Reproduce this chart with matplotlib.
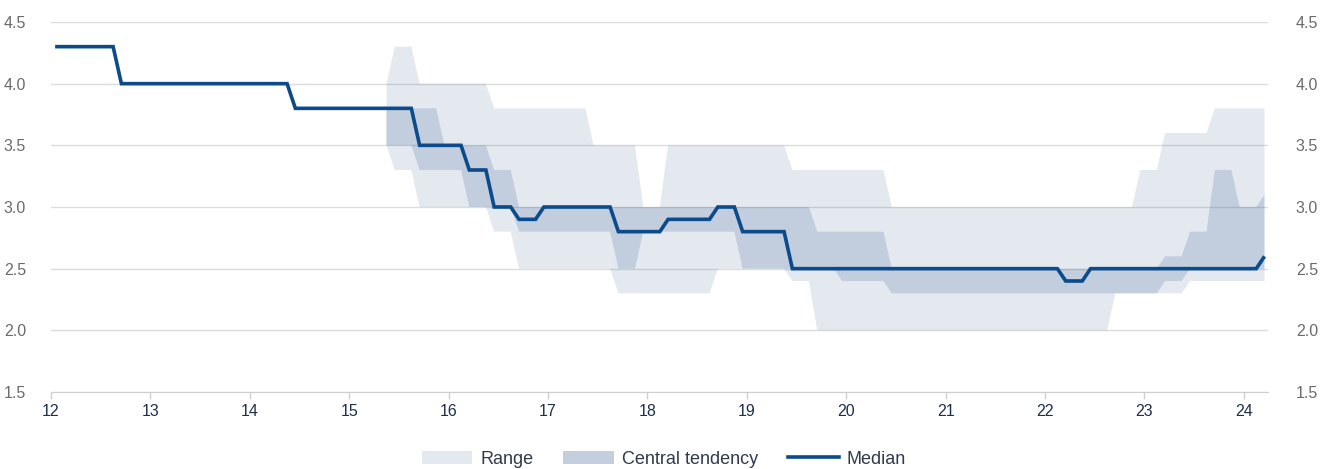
import pandas as pd
import numpy as np
import matplotlib
matplotlib.use('Agg')
import matplotlib.pyplot as plt
from matplotlib.patches import Patch
from matplotlib.lines import Line2D

plt.rcParams['font.family'] = ['Liberation Sans', 'DejaVu Sans']

# Longer-run fed funds projections: each value holds from its start month
# until the month before the next start. Last month shown is Mar 2024.
last_month = '2024-03'

median_start = ['2012-01', '2012-09', '2014-06', '2015-09', '2016-03', '2016-06',
                '2016-09', '2016-12', '2017-09', '2018-03', '2018-09', '2018-12',
                '2019-06', '2022-03', '2022-06', '2024-03']
median_value = [4.3, 4.0, 3.8, 3.5, 3.3, 3.0, 2.9, 3.0, 2.8, 2.9, 3.0, 2.8,
                2.5, 2.4, 2.5, 2.6]

range_hi_start = ['2015-05', '2015-06', '2015-09', '2016-06', '2017-06', '2017-12',
                  '2018-03', '2019-06', '2020-06', '2022-12', '2023-03', '2023-09']
range_hi_value = [4.0, 4.3, 4.0, 3.8, 3.5, 3.0, 3.5, 3.3, 3.0, 3.3, 3.6, 3.8]

range_lo_start = ['2015-05', '2015-06', '2015-09', '2016-06', '2016-09', '2017-09',
                  '2018-09', '2019-06', '2019-09', '2022-09', '2023-06']
range_lo_value = [3.5, 3.3, 3.0, 2.8, 2.5, 2.3, 2.5, 2.4, 2.0, 2.3, 2.4]

ct_hi_start = ['2015-05', '2015-12', '2016-06', '2016-09', '2019-09', '2020-06',
               '2023-03', '2023-06', '2023-09', '2023-12', '2024-03']
ct_hi_value = [3.8, 3.5, 3.3, 3.0, 2.8, 2.5, 2.6, 2.8, 3.3, 3.0, 3.1]

ct_lo_start = ['2015-05', '2015-09', '2016-03', '2016-09', '2017-09', '2017-12',
               '2018-12', '2019-12', '2020-06', '2023-03', '2023-06']
ct_lo_value = [3.5, 3.3, 3.0, 2.8, 2.5, 2.8, 2.5, 2.4, 2.3, 2.4, 2.5]

year_ticks = list(range(12, 25))

RANGE_COLOR = '#4b6c9b'
MEDIAN_COLOR = '#0b4a8b'


def month_pos(month):
    # years since 2000, plotted at mid-month
    p = pd.Period(month, freq='M')
    return p.year - 2000 + (p.month - 1 + 0.5) / 12


def step_vertices(starts, values):
    end = pd.Period(last_month, freq='M')
    periods = [pd.Period(s, freq='M') for s in starts]
    xs, ys = [], []
    for i, (p, v) in enumerate(zip(periods, values)):
        q = periods[i + 1] - 1 if i + 1 < len(periods) else end
        xs += [month_pos(str(p)), month_pos(str(q))]
        ys += [v, v]
    return np.array(xs), np.array(ys)


def band(ax, hi, lo, **kw):
    xh, yh = step_vertices(*hi)
    xl, yl = step_vertices(*lo)
    ax.fill(np.r_[xh, xl[::-1]], np.r_[yh, yl[::-1]], linewidth=0, **kw)


fig = plt.figure(figsize=(13.25, 4.69), dpi=100)
ax = fig.add_axes([51 / 1325, 1 - 392 / 469, (1268 - 51) / 1325, (392 - 22) / 469])

ax.set_xlim(12, 12 + (1268 - 51) / 99.4)
ax.set_ylim(1.5, 4.5)
ax.set_yticks(np.arange(1.5, 4.51, 0.5))
ax.grid(axis='y', color='#dcdcdc', linewidth=1.0, zorder=0)
ax.set_axisbelow(True)

band(ax, (range_hi_start, range_hi_value), (range_lo_start, range_lo_value),
     color=RANGE_COLOR, alpha=0.15, zorder=1)
band(ax, (ct_hi_start, ct_hi_value), (ct_lo_start, ct_lo_value),
     color=RANGE_COLOR, alpha=0.22, zorder=2)

mx, my = step_vertices(median_start, median_value)
ax.plot(mx, my, color=MEDIAN_COLOR, linewidth=2.6, zorder=3,
        solid_joinstyle='miter', solid_capstyle='butt')

for s in ['top', 'left', 'right']:
    ax.spines[s].set_visible(False)
ax.spines['bottom'].set_color('#cfcfcf')
ax.set_xticks(year_ticks)
ax.set_xticklabels([str(y) for y in year_ticks])
ax.tick_params(axis='x', colors='#cfcfcf', length=5, width=1, labelcolor='#1e2f4a',
               labelsize=11.5, pad=4)
ax.tick_params(axis='y', length=0, labelcolor='#6b6b6b', labelsize=11.5, pad=18)
ax.yaxis.set_major_formatter(matplotlib.ticker.FormatStrFormatter('%.1f'))

ax2 = ax.twinx()
ax2.set_ylim(ax.get_ylim())
ax2.set_yticks(ax.get_yticks())
ax2.yaxis.set_major_formatter(matplotlib.ticker.FormatStrFormatter('%.1f'))
ax2.tick_params(axis='y', length=0, labelcolor='#6b6b6b', labelsize=11.5, pad=20)
for s in ax2.spines.values():
    s.set_visible(False)

handles = [Patch(facecolor=RANGE_COLOR, alpha=0.15, linewidth=0),
           Patch(facecolor=RANGE_COLOR, alpha=0.33, linewidth=0),
           Line2D([0], [0], color=MEDIAN_COLOR, linewidth=2.6)]
fig.legend(handles, ['Range', 'Central tendency', 'Median'], loc='center',
           bbox_to_anchor=(0.501, 0.021), ncol=3, frameon=False, fontsize=13,
           handlelength=2.8, handleheight=0.7, columnspacing=1.65, handletextpad=0.45,
           labelcolor='#2f3a4c')

fig.savefig('out.png', dpi=100)
